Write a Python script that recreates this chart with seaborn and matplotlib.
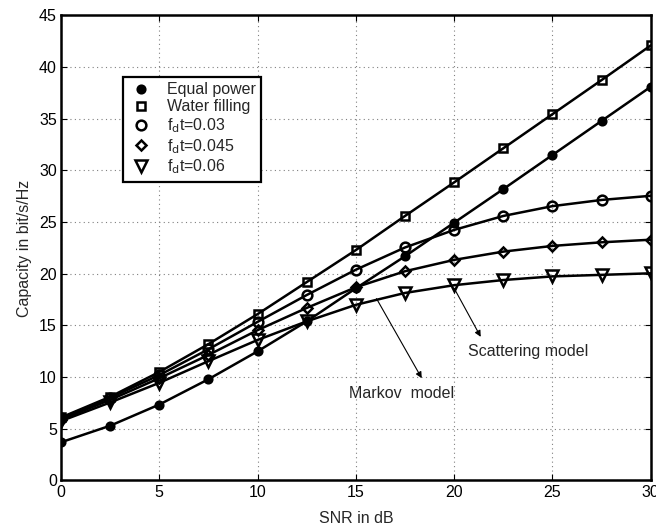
import matplotlib
matplotlib.use("Agg")
import matplotlib.pyplot as plt
from matplotlib.lines import Line2D
import seaborn as sns
import pandas as pd

snr = [0, 2.5, 5, 7.5, 10, 12.5, 15, 17.5, 20, 22.5, 25, 27.5, 30]
equal_power = [3.7, 5.3, 7.35, 9.8, 12.5, 15.4, 18.6, 21.7, 24.95, 28.2, 31.5, 34.8, 38.1]
water_filling = [6.1, 8.1, 10.5, 13.2, 16.1, 19.2, 22.3, 25.6, 28.85, 32.15, 35.45, 38.75, 42.1]
fd_003 = [6.0, 8.0, 10.2, 12.7, 15.35, 17.95, 20.4, 22.55, 24.25, 25.6, 26.55, 27.15, 27.55]
fd_0045 = [5.9, 7.8, 9.9, 12.15, 14.55, 16.7, 18.7, 20.25, 21.35, 22.15, 22.7, 23.05, 23.3]
fd_006 = [5.75, 7.55, 9.45, 11.55, 13.6, 15.4, 17.0, 18.15, 18.9, 19.4, 19.75, 19.9, 20.05]

labels = ["Equal power", "Water filling",
          r"f$_{\rm d}$t=0.03", r"f$_{\rm d}$t=0.045", r"f$_{\rm d}$t=0.06"]
series = [equal_power, water_filling, fd_003, fd_0045, fd_006]

sns.set_theme(style="ticks")
plt.rcParams["font.family"] = ["Liberation Sans", "DejaVu Sans"]
plt.rcParams["mathtext.default"] = "regular"

FS = 11.5

fig = plt.figure(figsize=(6.56, 5.30), dpi=100)
ax = fig.add_axes([0.093, 0.0934, 0.899, 0.8774])

styles = [
    dict(marker="o", markersize=5.5, markerfacecolor="black"),
    dict(marker="s", markersize=6, markerfacecolor="none"),
    dict(marker="o", markersize=7, markerfacecolor="none"),
    dict(marker="D", markersize=5.5, markerfacecolor="none"),
    dict(marker="v", markersize=8, markerfacecolor="none"),
]

for lab, vals, st in zip(labels, series, styles):
    df = pd.DataFrame({"snr": snr, "cap": vals})
    sns.lineplot(data=df, x="snr", y="cap", ax=ax, color="black", linewidth=1.8,
                 markeredgecolor="black", markeredgewidth=1.8, legend=False, **st)

ax.set_xlim(0, 30)
ax.set_ylim(0, 45)
ax.set_xticks([0, 5, 10, 15, 20, 25, 30])
ax.set_yticks([0, 5, 10, 15, 20, 25, 30, 35, 40, 45])
ax.grid(True, linestyle=(0, (1, 3)), color="#808080", linewidth=0.8)
ax.tick_params(direction="in", top=True, right=True, length=4, width=0.8,
               labelsize=FS, colors="black", pad=3)
for s in ax.spines.values():
    s.set_linewidth(1.8)
    s.set_color("black")
ax.set_xlabel("SNR in dB", fontsize=FS, labelpad=8)
ax.set_ylabel("Capacity in bit/s/Hz", fontsize=FS, labelpad=5)

handles = [Line2D([], [], linestyle="none", color="black", markeredgecolor="black",
                  markeredgewidth=1.8, **st) for st in styles]
leg = ax.legend(handles, labels, loc="upper left", bbox_to_anchor=(0.105, 0.868),
                frameon=True, fancybox=False, edgecolor="black", fontsize=FS,
                handlelength=1.6, handletextpad=0.8, labelspacing=0.12,
                borderpad=0.35, borderaxespad=0)
leg.get_frame().set_linewidth(1.6)
leg.get_frame().set_facecolor("white")
leg.get_frame().set_alpha(1)

arrow = dict(arrowstyle="-|>", color="black", lw=0.8, mutation_scale=9,
             shrinkA=0, shrinkB=0)
ax.annotate("", xy=(21.35, 13.9), xytext=(20.0, 18.6), arrowprops=arrow)
ax.annotate("", xy=(18.35, 9.9), xytext=(16.05, 17.6), arrowprops=arrow)
ax.text(23.75, 12.45, "Scattering model", fontsize=FS, ha="center", va="center")
ax.text(17.3, 8.45, "Markov  model", fontsize=FS, ha="center", va="center")

fig.savefig("out.png", dpi=100)
